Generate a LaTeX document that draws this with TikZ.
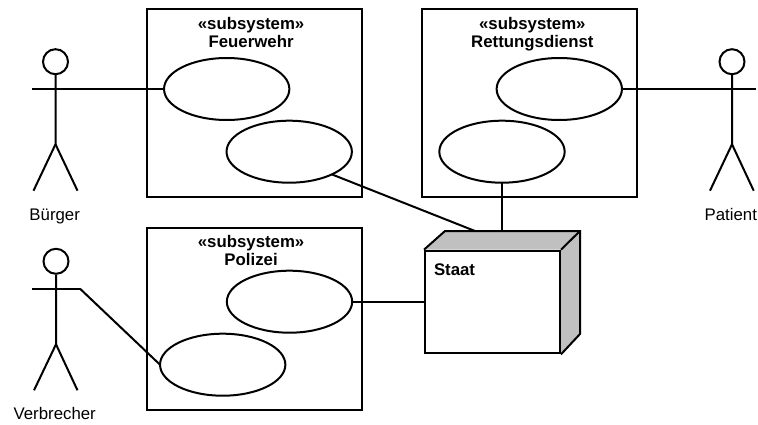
\documentclass[tikz,border=0pt]{standalone}
\usepackage{fontspec}
\setmainfont{Liberation Sans}
\usetikzlibrary{calc}
\usetikzlibrary{positioning}
\usetikzlibrary{shapes.geometric}
\definecolor{nodegray}{RGB}{192,192,192}
\tikzset{
	subsys/.style={draw, rectangle, inner sep=0pt, minimum width=161pt},
	usecase/.style={draw, ellipse, fill=white, inner sep=0pt, outer sep=0pt, minimum width=94pt, minimum height=46.5pt},
	head/.style={draw, circle, inner sep=0pt, minimum size=18.75pt},
	sysname/.style={font=\bfseries\fontsize{12.6pt}{13.6pt}\selectfont, align=center, inner sep=0pt},
	actorname/.style={font=\fontsize{12.6pt}{13.6pt}\selectfont, inner sep=0pt, anchor=base}
}

\begin{document}
\begin{tikzpicture}[x=0.75pt, y=-0.75pt, line width=1.5pt]
	\useasboundingbox (0,0) rectangle (758,425);

	% Subsystems
	\node[subsys, minimum height=141pt] (feuerwehr) at (254.3,103.3) {};
	\node[subsys, minimum height=141pt] (rettung) at (529.7,103.3) {};
	\node[subsys, minimum height=137pt] (polizei) at (254.3,319) {};
	\node[sysname, below=6pt of feuerwehr.north, xshift=-2.4pt] (feuerwehrName) {«subsystem»\\Feuerwehr};
	\node[sysname, below=6pt of rettung.north, xshift=2pt] (rettungName) {«subsystem»\\Rettungsdienst};
	\node[sysname, below=6pt of polizei.north, xshift=-2.4pt] (polizeiName) {«subsystem»\\Polizei};

	% Use cases
	\node[usecase] (feuerwehrA) at (226.7,89) {};
	\node[usecase] (feuerwehrB) at (289.2,151.7) {};
	\node[usecase] (rettungA) at (559.3,89) {};
	\node[usecase] (rettungB) at (502,151.7) {};
	\node[usecase] (polizeiA) at (289.5,301.7) {};
	\node[usecase] (polizeiB) at (222.7,364.7) {};

	% Staat
	\coordinate (backNW) at (445,231);
	\coordinate (backNE) at (580,231);
	\coordinate (backSE) at (580,334);
	\node[draw, rectangle, fill=white, inner sep=0pt, minimum width=101.25pt, minimum height=77pt] (staat) at (492.5,302) {};
	\fill[nodegray] (staat.north west) -- (backNW) -- (backNE) -- (staat.north east) -- cycle;
	\fill[nodegray] (staat.north east) -- (backNE) -- (backSE) -- (staat.south east) -- cycle;
	\draw (staat.north west) -- (backNW) -- (backNE) -- (backSE) -- (staat.south east);
	\draw (backNE) -- (staat.north east);
	\node[sysname, anchor=north west] (staatName) at ($(staat.north west)+(9,13)$) {Staat};
	\coordinate (staatTopA) at (475,231);
	\coordinate (staatTopB) at (502,231);

	% Buerger
	\node[head] (buergerHead) at (55.5,61.7) {};
	\coordinate (buergerHip) at (55.5,144.3);
	\coordinate (buergerHandL) at (32,89);
	\coordinate (buergerHandR) at (80,89);
	\coordinate (buergerFootL) at (33.5,190.7);
	\coordinate (buergerFootR) at (77.5,190.7);
	\draw (buergerHead) -- (buergerHip) -- (buergerFootL);
	\draw (buergerHip) -- (buergerFootR);
	\draw (buergerHandL) -- (buergerHandR);
	\node[actorname] (buergerName) at (54.7,220) {Bürger};

	% Patient
	\node[head] (patientHead) at (732,61.7) {};
	\coordinate (patientHip) at (732,144.3);
	\coordinate (patientHandL) at (708.3,89);
	\coordinate (patientHandR) at (755.7,89);
	\coordinate (patientFootL) at (710,190.7);
	\coordinate (patientFootR) at (753.7,190.7);
	\draw (patientHead) -- (patientHip) -- (patientFootL);
	\draw (patientHip) -- (patientFootR);
	\draw (patientHandL) -- (patientHandR);
	\node[actorname] (patientName) at (730.8,220) {Patient};

	% Verbrecher
	\node[head] (verbrecherHead) at (56,261.3) {};
	\coordinate (verbrecherHip) at (56,344.3);
	\coordinate (verbrecherHandL) at (32,288.7);
	\coordinate (verbrecherHandR) at (80,288.7);
	\coordinate (verbrecherFootL) at (34,390.3);
	\coordinate (verbrecherFootR) at (77.5,390.3);
	\draw (verbrecherHead) -- (verbrecherHip) -- (verbrecherFootL);
	\draw (verbrecherHip) -- (verbrecherFootR);
	\draw (verbrecherHandL) -- (verbrecherHandR);
	\node[actorname] (verbrecherName) at (54.7,419.3) {Verbrecher};

	% Connectors
	\draw (buergerHandR) -- (feuerwehrA);
	\draw (patientHandL) -- (rettungA);
	\draw (verbrecherHandR) -- (polizeiB.west);
	\draw (feuerwehrB.-28.5) -- (staatTopA);
	\draw (rettungB.south) -- (staatTopB);
	\draw (polizeiA.east) -- (polizeiA.east -| staat.west);
\end{tikzpicture}
\end{document}
